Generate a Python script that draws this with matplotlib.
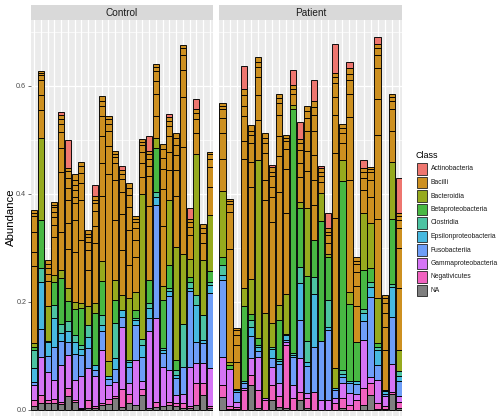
import numpy as np
import matplotlib.pyplot as plt

plt.rcParams['font.family'] = ['Liberation Sans', 'DejaVu Sans']

classes = ['Actinobacteria', 'Bacilli', 'Bacteroidia', 'Betaproteobacteria', 'Clostridia',
           'Epsilonproteobacteria', 'Fusobacteriia', 'Gammaproteobacteria', 'Negativicutes', 'NA']
colors = ['#EE766F', '#CD9020', '#96AA1E', '#48B843', '#4CC3A2',
          '#47B9E0', '#6E9EF8', '#D574F5', '#F162C0', '#7F7F7F']

# Control, 27 samples (abundance per class)
ctrl_na = [0.006, 0.012, 0.013, 0.013, 0.010, 0.025, 0.015, 0.002, 0.003, 0.003, 0.009, 0.010, 0.022, 0.005,
           0.013, 0.009, 0.027, 0.003, 0.005, 0.006, 0.009, 0.006, 0.003, 0.003, 0.009, 0.027, 0.003]
ctrl_neg = [0.012, 0.015, 0.005, 0.006, 0.004, 0.016, 0.003, 0.002, 0.015, 0.003, 0.003, 0.010, 0.004, 0.034,
            0.017, 0.0, 0.012, 0.0, 0.010, 0.0, 0.006, 0.007, 0.010, 0.003, 0.040, 0.022, 0.003]
ctrl_gamma = [0.028, 0.071, 0.052, 0.036, 0.068, 0.060, 0.037, 0.058, 0.059, 0.056, 0.099, 0.025, 0.025, 0.114,
              0.019, 0.083, 0.015, 0.142, 0.154, 0.074, 0.059, 0.014, 0.017, 0.074, 0.037, 0.037, 0.071]
ctrl_fuso = [0.006, 0.052, 0.030, 0.062, 0.046, 0.025, 0.049, 0.040, 0.037, 0.012, 0.034, 0.012, 0.025, 0.019,
             0.031, 0.065, 0.043, 0.025, 0.210, 0.025, 0.136, 0.031, 0.049, 0.139, 0.040, 0.037, 0.139]
ctrl_eps = [0.025, 0.086, 0.025, 0.052, 0.015, 0.019, 0.022, 0.010, 0.020, 0.009, 0.012, 0.006, 0.020, 0.012,
            0.009, 0.009, 0.022, 0.019, 0.015, 0.006, 0.009, 0.006, 0.0, 0.006, 0.068, 0.006, 0.015]
ctrl_clo = [0.033, 0.027, 0.003, 0.025, 0.015, 0.019, 0.012, 0.008, 0.022, 0.0, 0.019, 0.0, 0.065, 0.0,
            0.003, 0.003, 0.012, 0.009, 0.010, 0.003, 0.006, 0.009, 0.080, 0.012, 0.019, 0.046, 0.006]
ctrl_beta = [0.007, 0.089, 0.0, 0.043, 0.086, 0.037, 0.049, 0.068, 0.0, 0.096, 0.062, 0.0, 0.043, 0.0,
             0.0, 0.015, 0.0, 0.043, 0.080, 0.090, 0.043, 0.019, 0.0, 0.009, 0.0, 0.0, 0.019]
ctrl_bact = [0.006, 0.151, 0.065, 0.012, 0.015, 0.025, 0.012, 0.010, 0.037, 0.019, 0.037, 0.028, 0.036, 0.028,
             0.114, 0.034, 0.269, 0.0, 0.020, 0.026, 0.120, 0.210, 0.130, 0.034, 0.260, 0.103, 0.105]
ctrl_act = [0, 0, 0, 0, 0.007, 0.052, 0, 0, 0, 0.022, 0, 0, 0, 0.008,
            0, 0, 0, 0.028, 0, 0, 0.006, 0, 0, 0.020, 0.020, 0, 0]
# Bacilli OTUs, bottom -> top
ctrl_bacilli = [
    [0.143, 0.027, 0.037, 0.028, 0.006, 0.005],
    [0.052, 0.028, 0.027, 0.009, 0.005, 0.004],
    [0.046, 0.012, 0.011, 0.008, 0.008],
    [0.071, 0.022, 0.015, 0.009, 0.009, 0.005, 0.004],
    [0.071, 0.111, 0.043, 0.031, 0.015, 0.008, 0.007],
    [0.071, 0.049, 0.043, 0.022, 0.019, 0.012, 0.006],
    [0.093, 0.059, 0.031, 0.012, 0.012, 0.011, 0.009, 0.010],
    [0.117, 0.074, 0.031, 0.019, 0.012, 0.007],
    [0.065, 0.037, 0.015, 0.009, 0.007, 0.007],
    [0.111, 0.031, 0.028, 0.015, 0.006, 0.006],
    [0.120, 0.062, 0.049, 0.037, 0.019, 0.009, 0.010],
    [0.346, 0.052, 0.028, 0.012, 0.009, 0.006],
    [0.111, 0.074, 0.031, 0.012, 0.006, 0.006],
    [0.083, 0.068, 0.040, 0.025, 0.009, 0.007],
    [0.062, 0.065, 0.043, 0.022, 0.012, 0.009],
    [0.065, 0.031, 0.022, 0.012, 0.006, 0.005],
    [0.031, 0.025, 0.022, 0.012, 0.006, 0.005],
    [0.136, 0.056, 0.019, 0.012, 0.009, 0.006],
    [0.040, 0.040, 0.025, 0.019, 0.007, 0.005],
    [0.110, 0.068, 0.037, 0.022, 0.015, 0.010],
    [0.056, 0.034, 0.028, 0.019, 0.009, 0.008],
    [0.093, 0.049, 0.028, 0.019, 0.012, 0.009],
    [0.198, 0.093, 0.049, 0.028, 0.012, 0.007],
    [0.043, 0.015, 0.009, 0.006],
    [0.040, 0.025, 0.012, 0.006],
    [0.031, 0.019, 0.009, 0.007],
    [0.052, 0.037, 0.015, 0.008, 0.004],
]

# Patient, 26 samples
pat_na = [0.024, 0.002, 0.002, 0.0, 0.046, 0.003, 0.0, 0.018, 0.005, 0.003, 0.0, 0.018, 0.003,
          0.0, 0.0, 0.0, 0.0, 0.003, 0.0, 0.0, 0.009, 0.027, 0.002, 0.002, 0.030, 0.003]
pat_neg = [0.022, 0.004, 0.003, 0.036, 0.019, 0.033, 0.018, 0.028, 0.020, 0.117, 0.021, 0.015, 0.018,
           0.033, 0.0, 0.0, 0.012, 0.018, 0.009, 0.018, 0.031, 0.022, 0.010, 0.004, 0.003, 0.012]
pat_gamma = [0.052, 0.070, 0.010, 0.004, 0.031, 0.062, 0.004, 0.034, 0.025, 0.006, 0.025, 0.062, 0.010,
             0.0, 0.018, 0.018, 0.009, 0.028, 0.022, 0.012, 0.090, 0.012, 0.043, 0.020, 0.052, 0.010]
pat_fuso = [0.142, 0.0, 0.018, 0.009, 0.040, 0.010, 0.0, 0.015, 0.035, 0.003, 0.052, 0.071, 0.050,
            0.083, 0.110, 0.130, 0.015, 0.012, 0.019, 0.018, 0.034, 0.148, 0.028, 0.004, 0.086, 0.028]
pat_eps = [0.009, 0.0, 0.003, 0.004, 0.018, 0.009, 0.0, 0.018, 0.006, 0.009, 0.004, 0.068, 0.007,
           0.099, 0.0, 0.006, 0.004, 0.006, 0.004, 0.006, 0.015, 0.019, 0.028, 0.005, 0.056, 0.010]
pat_clo = [0.019, 0.0, 0.0, 0.0, 0.012, 0.003, 0.0, 0.004, 0.003, 0.002, 0.003, 0.031, 0.040,
           0.031, 0.0, 0.049, 0.0, 0.006, 0.0, 0.0, 0.007, 0.009, 0.006, 0.0, 0.006, 0.008]
pat_beta = [0.015, 0.006, 0.0, 0.139, 0.012, 0.012, 0.0, 0.0, 0.072, 0.0, 0.451, 0.108, 0.120,
            0.068, 0.222, 0.080, 0.0, 0.350, 0.142, 0.071, 0.073, 0.025, 0.006, 0.002, 0.120, 0.0]
pat_bact = [0.122, 0.006, 0.003, 0.034, 0.065, 0.330, 0.157, 0.043, 0.028, 0.074, 0.009, 0.012, 0.126,
            0.0, 0.052, 0.006, 0.037, 0.040, 0.022, 0.0, 0.105, 0.083, 0.083, 0.0, 0.105, 0.040]
pat_act = [0, 0, 0, 0.042, 0, 0, 0, 0.003, 0, 0, 0.028, 0.030, 0,
           0.038, 0.004, 0.028, 0.054, 0, 0.010, 0, 0.015, 0, 0.012, 0, 0, 0.064]
pat_bacilli = [
    [0.059, 0.049, 0.028, 0.015, 0.006, 0.006],
    [0.210, 0.068, 0.015, 0.005, 0.004],
    [0.049, 0.031, 0.019, 0.009, 0.005],
    [0.238, 0.034, 0.046, 0.019, 0.019, 0.012],
    [0.170, 0.046, 0.034, 0.015, 0.009, 0.010],
    [0.074, 0.046, 0.034, 0.019, 0.009, 0.010],
    [0.210, 0.037, 0.049, 0.019, 0.009, 0.009],
    [0.188, 0.046, 0.019, 0.019, 0.009, 0.009],
    [0.210, 0.065, 0.037, 0.040, 0.022, 0.009, 0.007],
    [0.151, 0.080, 0.037, 0.015, 0.006, 0.006],
    [0.019, 0.009, 0.009],
    [0.046, 0.025, 0.025, 0.012, 0.009],
    [0.068, 0.037, 0.037, 0.025, 0.012, 0.009],
    [0.065, 0.046, 0.046, 0.046, 0.028, 0.015, 0.012],
    [0.019, 0.012, 0.008, 0.006],
    [0.019, 0.015, 0.007, 0.006],
    [0.278, 0.120, 0.071, 0.034, 0.025, 0.012, 0.007],
    [0.031, 0.019, 0.009, 0.007],
    [0.207, 0.117, 0.043, 0.025, 0.012, 0.011],
    [0.068, 0.037, 0.025, 0.015, 0.006, 0.006],
    [0.043, 0.022, 0.012, 0.007],
    [0.049, 0.031, 0.015, 0.006, 0.004],
    [0.148, 0.154, 0.068, 0.056, 0.025, 0.012, 0.009],
    [0.074, 0.043, 0.025, 0.019, 0.009, 0.006],
    [0.059, 0.040, 0.015, 0.007, 0.006],
    [0.114, 0.074, 0.037, 0.015, 0.008, 0.006],
]

W, H = 500, 416
fig = plt.figure(figsize=(5, 4.16), dpi=100)
fig.patch.set_facecolor('white')

YMIN, YMAX = -0.0344, 0.7217


def draw_panel(left, width, title, stack, bacilli, show_y):
    # stack: (class index, values) bottom -> top; Bacilli OTUs go in just below Actinobacteria
    ax = fig.add_axes([left / W, (H - 428.3) / H, width / W, 408.3 / H])
    n = len(bacilli)
    ax.set_facecolor('#EBEBEB')
    ax.set_xlim(0.5, n + 0.5)
    ax.set_ylim(YMIN, YMAX)
    for v in [0.1, 0.3, 0.5, 0.7]:
        ax.axhline(v, color='white', lw=0.5, zorder=0)
    for v in [0.0, 0.2, 0.4, 0.6]:
        ax.axhline(v, color='white', lw=0.9, zorder=0)
    for x in range(1, n + 1):
        ax.axvline(x, color='white', lw=0.9, zorder=0)

    for i in range(n):
        b = 0.0
        segs = [(ci, vals[i]) for ci, vals in stack[:-1]]
        segs += [(1, s) for s in bacilli[i]]
        segs.append((stack[-1][0], stack[-1][1][i]))
        for ci, h in segs:
            if h <= 0:
                continue
            ax.bar(i + 1, h, bottom=b, width=0.9, color=colors[ci],
                   edgecolor='black', linewidth=0.65, zorder=2)
            b += h

    for s in ax.spines.values():
        s.set_visible(False)
    ax.set_xticks([])
    if show_y:
        ax.set_yticks([0.0, 0.2, 0.4, 0.6])
        ax.set_yticklabels(['0.0', '0.2', '0.4', '0.6'], fontsize=5.2, color='#4D4D4D')
        ax.tick_params(axis='y', length=2, width=0.5, color='#333333', pad=1.2)
    else:
        ax.set_yticks([])

    # strip
    sax = fig.add_axes([left / W, (H - 20) / H, width / W, 15 / H])
    sax.set_facecolor('#D9D9D9')
    sax.set_xticks([])
    sax.set_yticks([])
    for s in sax.spines.values():
        s.set_visible(False)
    sax.text(0.5, 0.45, title, ha='center', va='center', fontsize=7.2, color='#1A1A1A',
             transform=sax.transAxes)
    return ax


ctrl_stack = [(9, ctrl_na), (8, ctrl_neg), (7, ctrl_gamma), (6, ctrl_fuso), (5, ctrl_eps),
              (4, ctrl_clo), (3, ctrl_beta), (2, ctrl_bact), (0, ctrl_act)]
pat_stack = [(9, pat_na), (8, pat_neg), (7, pat_gamma), (6, pat_fuso), (5, pat_eps),
             (4, pat_clo), (3, pat_beta), (2, pat_bact), (0, pat_act)]

draw_panel(30.7, 182.6, 'Control', ctrl_stack, ctrl_bacilli, True)
draw_panel(219.0, 183.3, 'Patient', pat_stack, pat_bacilli, False)

fig.text(11.0 / W, 1 - 217 / H, 'Abundance', rotation=90, ha='center', va='center',
         fontsize=8.2, color='black')

# legend
lax = fig.add_axes([0, 0, 1, 1], facecolor='none')
lax.set_xlim(0, W)
lax.set_ylim(H, 0)
lax.axis('off')
lax.text(416, 156, 'Class', ha='left', va='center', fontsize=6.5, color='black')
for k, (name, c) in enumerate(zip(classes, colors)):
    cy = 169 + 13.5 * k
    lax.add_patch(plt.Rectangle((416.7, cy - 5.8), 10, 11.6, facecolor=c,
                                edgecolor='#222222', linewidth=0.6))
    lax.text(430.5, cy, name, ha='left', va='center', fontsize=4.9, color='#1A1A1A')

fig.savefig('out.png', dpi=100)
